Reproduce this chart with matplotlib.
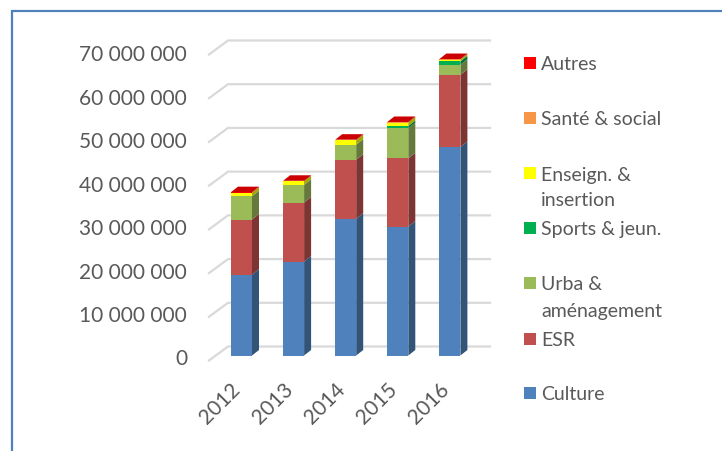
import matplotlib
matplotlib.use("Agg")
import matplotlib.pyplot as plt
from matplotlib.patches import Rectangle
from matplotlib.transforms import ScaledTranslation
import numpy as np

years = ["2012", "2013", "2014", "2015", "2016"]
culture = [18.5, 21.5, 31.3, 29.5, 47.7]
esr = [12.6, 13.5, 13.5, 15.6, 16.5]
urba = [5.3, 4.0, 3.4, 6.9, 2.3]
sports = [0.05, 0.05, 0.05, 0.5, 0.8]
sante = [0.02, 0.02, 0.02, 0.02, 0.02]
enseign = [0.8, 0.8, 1.0, 0.8, 0.4]
autres = [0.1, 0.1, 0.1, 0.1, 0.1]

names = ["Culture", "ESR", "Urba &\naménagement", "Sports & jeun.",
         "Enseign. &\ninsertion", "Santé & social", "Autres"]
stack = [culture, esr, urba, sports, enseign, sante, autres]
front_col = ["#4F81BD", "#C0504D", "#9BBB59", "#00B050", "#FFFF00", "#F79646", "#FF0000"]
side_col = ["#335479", "#7D3432", "#64793A", "#007234", "#A6A600", "#A1622E", "#A60000"]
legend_order = [6, 5, 4, 3, 2, 1, 0]
legend_y = [65, 120, 175, 230, 285, 341, 395]

W, H = 722, 452
GREY = "#595959"
plt.rcParams['font.family'] = ['Lato', 'DejaVu Sans']

fig = plt.figure(figsize=(W / 100, H / 100), dpi=100)

# axes box in pixels, y=0 sits on the bars' front bottom edge
left, right, top, bottom = 200, 510, 20, 356.5
ax = fig.add_axes([left / W, 1 - bottom / H, (right - left) / W, (bottom - top) / H])
px_y = 306 / 70          # px per million
px_x = 52.1              # px per category
x0 = (241.5 - left) / px_x
ax.set_xlim(-x0, (right - left) / px_x - x0)
ax.set_ylim(0, (bottom - top) / px_y)
ax.axis("off")
ax.patch.set_visible(False)

x = np.arange(len(years))
bar_w = 21 / px_x
dx = 7 / px_x
dy = 5.5 / px_y

# back wall grid with the little floor stub on the left
back = 9 / px_y
stub = 5 / px_y
xa = (209 - left) / px_x - x0
xb = (228 - left) / px_x - x0
xc = (490 - left) / px_x - x0
for v in range(0, 80, 10):
    ax.plot([xa, xb, xc], [v - stub, v + back, v + back], color="#D9D9D9", lw=1.6,
            clip_on=False, zorder=1, solid_joinstyle="miter")

base = np.zeros(len(years))
for vals, fc, sc in zip(stack, front_col, side_col):
    vals = np.array(vals)
    ax.bar(x, vals, bar_w, bottom=base, color=fc, zorder=3)
    for xi, b, v in zip(x, base, vals):
        xr = xi + bar_w / 2
        ax.fill([xr, xr + dx, xr + dx, xr], [b, b + dy, b + v + dy, b + v], color=sc, lw=0, zorder=2.5)
    base = base + vals

# lid of each column
for xi, t in zip(x, base):
    xl, xr = xi - bar_w / 2, xi + bar_w / 2
    ax.fill([xl, xr, xr + dx, xl + dx], [t, t, t + dy, t + dy], color="#CC0000", lw=0, zorder=4)

for v in range(0, 80, 10):
    label = f"{v * 1000000:,}".replace(",", " ")
    ax.text(187 / W, 1 - (359.5 - v * 4.343) / H, label, transform=fig.transFigure, ha="right",
            va="center", fontsize=15, color=GREY)

year_shift = ScaledTranslation(-4 / 100, -30 / 100, fig.dpi_scale_trans)
for xi, yr in zip(x, years):
    ax.text(xi, 0, yr, rotation=45, rotation_mode="anchor", ha="right", va="center",
            fontsize=15, color=GREY, transform=ax.transData + year_shift, clip_on=False)

# legend is laid out by hand, Excel spaces it unevenly
for idx, ly in zip(legend_order, legend_y):
    fig.add_artist(Rectangle((524 / W, 1 - (ly + 5) / H), 12 / W, 12 / H, transform=fig.transFigure,
                             facecolor=front_col[idx], edgecolor="none"))
    first, *rest = names[idx].split("\n")
    fig.text(541 / W, 1 - ly / H, first, ha="left", va="center", fontsize=14, color=GREY)
    if rest:
        fig.text(541 / W, 1 - (ly + 26) / H, rest[0], ha="left", va="center", fontsize=14, color=GREY)

# chart area frame
fig.add_artist(Rectangle((11.5 / W, -0.02), 1.1, 1 - 11.5 / H + 0.02, transform=fig.transFigure,
                         facecolor="none", edgecolor="#4F81BD", lw=1.6))

fig.savefig("out.png", dpi=100)
plt.close(fig)
